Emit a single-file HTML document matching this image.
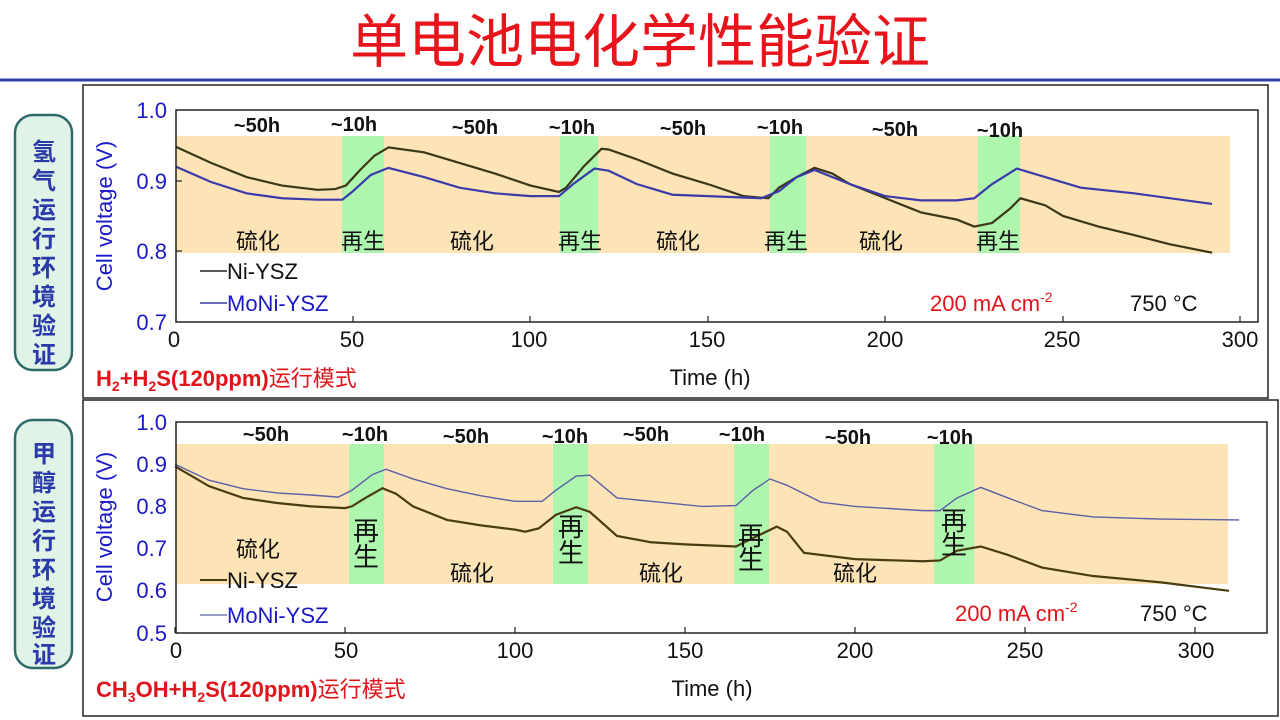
<!DOCTYPE html>
<html><head><meta charset="utf-8"><style>
body{margin:0;width:1280px;height:720px;background:#fff;overflow:hidden;font-family:"Liberation Sans","Noto Sans CJK SC",sans-serif}
svg{position:absolute;left:0;top:0}
</style></head><body>
<svg width="1280" height="720" viewBox="0 0 1280 720" font-family="Liberation Sans, Noto Sans CJK SC, sans-serif">
<text x="640" y="62" text-anchor="middle" font-size="58" fill="#e8141b" font-family="Noto Sans CJK SC, sans-serif">单电池电化学性能验证</text>
<line x1="0" y1="80" x2="1280" y2="80" stroke="#2b3fa8" stroke-width="3"/>

<rect x="15" y="115" width="57" height="255" rx="18" fill="#dff3e6" stroke="#2f6a6a" stroke-width="2.5"/>
<text font-size="24" fill="#2a3aa8" text-anchor="middle" font-weight="bold" font-family="Noto Sans CJK SC, sans-serif">
<tspan x="44" y="160">氢</tspan><tspan x="44" y="189">气</tspan><tspan x="44" y="218">运</tspan><tspan x="44" y="247">行</tspan><tspan x="44" y="276">环</tspan><tspan x="44" y="305">境</tspan><tspan x="44" y="334">验</tspan><tspan x="44" y="363">证</tspan></text>
<rect x="15" y="420" width="57" height="248" rx="18" fill="#dff3e6" stroke="#2f6a6a" stroke-width="2.5"/>
<text font-size="24" fill="#2a3aa8" text-anchor="middle" font-weight="bold" font-family="Noto Sans CJK SC, sans-serif">
<tspan x="44" y="462">甲</tspan><tspan x="44" y="491">醇</tspan><tspan x="44" y="520">运</tspan><tspan x="44" y="549">行</tspan><tspan x="44" y="578">环</tspan><tspan x="44" y="607">境</tspan><tspan x="44" y="636">验</tspan><tspan x="44" y="663">证</tspan></text>

<rect x="83" y="85" width="1185" height="313" fill="none" stroke="#222" stroke-width="1.5"/>
<rect x="83" y="400" width="1195" height="316" fill="none" stroke="#222" stroke-width="1.5"/>

<!-- TOP CHART -->
<rect x="176" y="136" width="1054" height="117" fill="#fde4b6"/>
<rect x="342" y="136" width="42" height="117" fill="#aef5ae"/>
<rect x="560" y="136" width="38" height="117" fill="#aef5ae"/>
<rect x="770" y="136" width="36" height="117" fill="#aef5ae"/>
<rect x="978" y="136" width="42" height="117" fill="#aef5ae"/>
<g fill="none">
<polyline transform="translate(175.5,816.9) scale(3.55,-707)" vector-effect="non-scaling-stroke" stroke="#3a3818" stroke-width="2.2" points="0,0.948 10,0.925 20,0.905 30,0.893 40,0.887 45,0.888 48,0.893 52,0.915 56,0.935 60,0.947 70,0.94 80,0.925 90,0.91 100,0.893 108,0.884 110,0.89 115,0.92 120,0.945 122,0.944 130,0.93 140,0.91 150,0.895 160,0.878 167,0.875 170,0.89 175,0.905 180,0.918 185,0.91 190,0.895 200,0.875 210,0.855 220,0.845 225,0.835 230,0.84 235,0.86 238,0.875 245,0.865 250,0.85 260,0.835 270,0.823 280,0.81 292,0.798"/>
<polyline transform="translate(175.5,816.9) scale(3.55,-707)" vector-effect="non-scaling-stroke" stroke="#3a3aaa" stroke-width="2.2" points="0,0.92 10,0.898 20,0.882 30,0.875 40,0.873 47,0.873 50,0.885 55,0.908 60,0.918 70,0.905 80,0.89 90,0.882 100,0.878 108,0.878 112,0.895 118,0.917 122,0.914 130,0.895 140,0.88 150,0.878 165,0.875 170,0.885 175,0.905 180,0.915 190,0.895 200,0.878 210,0.872 220,0.872 225,0.875 230,0.895 237,0.917 245,0.905 255,0.89 270,0.882 292,0.867"/>
</g>
<rect x="176" y="110" width="1082" height="212" fill="none" stroke="#222" stroke-width="1.5"/>
<g stroke="#222" stroke-width="1.2">
<line x1="176" y1="322" x2="176" y2="316"/><line x1="353" y1="322" x2="353" y2="316"/><line x1="530" y1="322" x2="530" y2="316"/><line x1="708" y1="322" x2="708" y2="316"/><line x1="885" y1="322" x2="885" y2="316"/><line x1="1063" y1="322" x2="1063" y2="316"/><line x1="1240" y1="322" x2="1240" y2="316"/>
<line x1="176" y1="181" x2="182" y2="181"/><line x1="176" y1="251" x2="182" y2="251"/>
</g>
<g font-size="22" fill="#1a1ac8" text-anchor="end">
<text x="167" y="118">1.0</text><text x="167" y="189">0.9</text><text x="167" y="259">0.8</text><text x="167" y="330">0.7</text></g>
<g font-size="22" fill="#111" text-anchor="middle">
<text x="174" y="347">0</text><text x="352" y="347">50</text><text x="529" y="347">100</text><text x="707" y="347">150</text><text x="885" y="347">200</text><text x="1062" y="347">250</text><text x="1240" y="347">300</text>
<text x="710" y="385">Time (h)</text></g>
<text transform="translate(112,216) rotate(-90)" font-size="22" fill="#1a1ac8" text-anchor="middle">Cell voltage (V)</text>
<g font-size="20" font-weight="bold" fill="#111" text-anchor="middle">
<text x="257" y="132">~50h</text><text x="354" y="131">~10h</text><text x="475" y="134">~50h</text><text x="572" y="134">~10h</text><text x="683" y="135">~50h</text><text x="780" y="134">~10h</text><text x="895" y="136">~50h</text><text x="1000" y="137">~10h</text></g>
<g font-size="22" fill="#111" text-anchor="middle" font-family="Noto Sans CJK SC, sans-serif">
<text x="258" y="249">硫化</text><text x="363" y="249">再生</text><text x="472" y="249">硫化</text><text x="580" y="249">再生</text><text x="678" y="249">硫化</text><text x="786" y="249">再生</text><text x="881" y="249">硫化</text><text x="998" y="249">再生</text></g>
<line x1="200" y1="271" x2="227" y2="271" stroke="#222" stroke-width="1.5"/>
<text x="227" y="279" font-size="22" fill="#111">Ni-YSZ</text>
<line x1="200" y1="303" x2="227" y2="303" stroke="#3a3aaa" stroke-width="1.5"/>
<text x="227" y="311" font-size="22" fill="#1a1ac8">MoNi-YSZ</text>
<text x="930" y="311" font-size="22" fill="#e0141b">200 mA cm<tspan dy="-9" font-size="14">-2</tspan></text>
<text x="1130" y="311" font-size="22" fill="#111">750 °C</text>
<text x="96" y="386" font-size="22" font-weight="bold" fill="#e0141b">H<tspan font-size="14" dy="5">2</tspan><tspan dy="-5">+H</tspan><tspan font-size="14" dy="5">2</tspan><tspan dy="-5">S(120ppm)</tspan><tspan font-family="Noto Sans CJK SC, sans-serif" font-weight="normal">运行模式</tspan></text>

<!-- BOTTOM CHART -->
<rect x="176" y="444" width="1052" height="140" fill="#fde4b6"/>
<rect x="349" y="444" width="35" height="140" fill="#aef5ae"/>
<rect x="553" y="444" width="35" height="140" fill="#aef5ae"/>
<rect x="734" y="444" width="35" height="140" fill="#aef5ae"/>
<rect x="934" y="444" width="40" height="140" fill="#aef5ae"/>
<g fill="none">
<polyline transform="translate(175,844) scale(3.4,-422)" vector-effect="non-scaling-stroke" stroke="#4a3c12" stroke-width="2.2" points="0,0.895 10,0.848 20,0.82 30,0.808 40,0.8 50,0.796 52,0.8 56,0.82 61,0.843 65,0.83 70,0.8 80,0.768 90,0.755 100,0.745 103,0.74 107,0.748 112,0.78 118,0.798 122,0.787 130,0.73 140,0.715 150,0.71 165,0.705 170,0.725 177,0.752 180,0.74 185,0.69 200,0.675 220,0.67 225,0.672 230,0.695 237,0.705 245,0.685 255,0.655 270,0.635 290,0.62 310,0.6"/>
<polyline transform="translate(175,844) scale(3.4,-422)" vector-effect="non-scaling-stroke" stroke="#5b5fa8" stroke-width="1.4" points="0,0.9 10,0.862 20,0.842 30,0.832 40,0.827 48,0.822 52,0.838 58,0.875 62,0.888 70,0.865 80,0.842 90,0.825 100,0.812 108,0.812 112,0.838 118,0.872 122,0.874 130,0.82 140,0.812 155,0.8 165,0.802 170,0.838 175,0.865 180,0.85 190,0.81 200,0.8 220,0.79 225,0.79 230,0.82 237,0.845 245,0.82 255,0.79 270,0.775 290,0.77 313,0.768"/>
</g>
<rect x="176" y="422" width="1091" height="211" fill="none" stroke="#222" stroke-width="1.5"/>
<g stroke="#222" stroke-width="1.2">
<line x1="175" y1="633" x2="175" y2="627"/><line x1="345" y1="633" x2="345" y2="627"/><line x1="515" y1="633" x2="515" y2="627"/><line x1="685" y1="633" x2="685" y2="627"/><line x1="855" y1="633" x2="855" y2="627"/><line x1="1025" y1="633" x2="1025" y2="627"/><line x1="1195" y1="633" x2="1195" y2="627"/></g>
<g font-size="22" fill="#1a1ac8" text-anchor="end">
<text x="167" y="430">1.0</text><text x="167" y="472">0.9</text><text x="167" y="514">0.8</text><text x="167" y="556">0.7</text><text x="167" y="598">0.6</text><text x="167" y="641">0.5</text></g>
<g font-size="22" fill="#111" text-anchor="middle">
<text x="176" y="658">0</text><text x="346" y="658">50</text><text x="515" y="658">100</text><text x="685" y="658">150</text><text x="855" y="658">200</text><text x="1025" y="658">250</text><text x="1196" y="658">300</text>
<text x="712" y="696">Time (h)</text></g>
<text transform="translate(112,527) rotate(-90)" font-size="22" fill="#1a1ac8" text-anchor="middle">Cell voltage (V)</text>
<g font-size="20" font-weight="bold" fill="#111" text-anchor="middle">
<text x="266" y="441">~50h</text><text x="365" y="441">~10h</text><text x="466" y="443">~50h</text><text x="565" y="443">~10h</text><text x="646" y="441">~50h</text><text x="742" y="441">~10h</text><text x="848" y="444">~50h</text><text x="950" y="444">~10h</text></g>
<g font-size="22" fill="#111" text-anchor="middle" font-family="Noto Sans CJK SC, sans-serif">
<text x="258" y="557">硫化</text><text x="472" y="581">硫化</text><text x="661" y="581">硫化</text><text x="855" y="581">硫化</text></g>
<g font-size="26" fill="#111" text-anchor="middle" font-family="Noto Sans CJK SC, sans-serif">
<text x="366" y="540">再</text><text x="366" y="566">生</text><text x="571" y="536">再</text><text x="571" y="562">生</text><text x="751" y="545">再</text><text x="751" y="569">生</text><text x="954" y="530">再</text><text x="954" y="554">生</text></g>
<line x1="200" y1="580" x2="227" y2="580" stroke="#4a3c12" stroke-width="2"/>
<text x="227" y="588" font-size="22" fill="#111">Ni-YSZ</text>
<line x1="200" y1="615" x2="227" y2="615" stroke="#5b5fa8" stroke-width="1.3"/>
<text x="227" y="623" font-size="22" fill="#1a1ac8">MoNi-YSZ</text>
<text x="955" y="621" font-size="22" fill="#e0141b">200 mA cm<tspan dy="-9" font-size="14">-2</tspan></text>
<text x="1140" y="621" font-size="22" fill="#111">750 °C</text>
<text x="96" y="697" font-size="22" font-weight="bold" fill="#e0141b">CH<tspan font-size="14" dy="5">3</tspan><tspan dy="-5">OH+H</tspan><tspan font-size="14" dy="5">2</tspan><tspan dy="-5">S(120ppm)</tspan><tspan font-family="Noto Sans CJK SC, sans-serif" font-weight="normal">运行模式</tspan></text>
</svg>
</body></html>
